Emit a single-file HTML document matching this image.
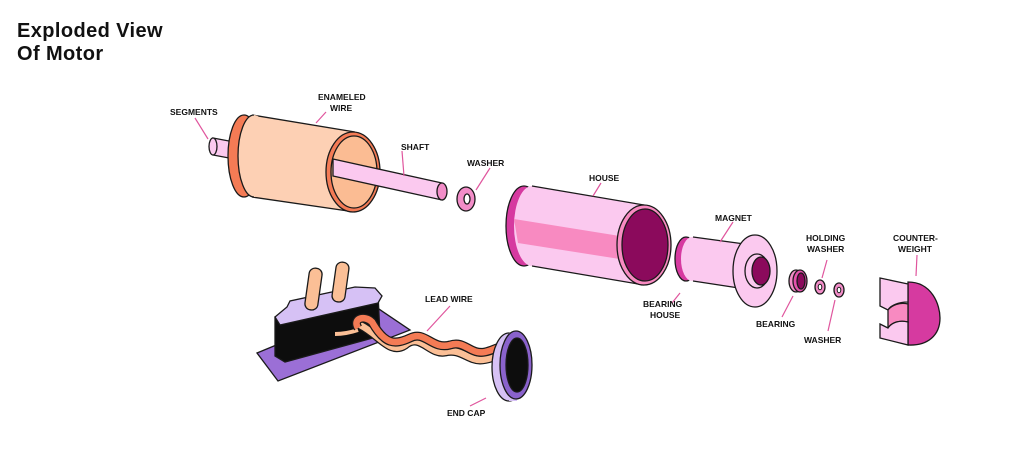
<!DOCTYPE html>
<html><head><meta charset="utf-8"><style>
html,body{margin:0;padding:0;background:#fff;width:1024px;height:460px;overflow:hidden}
svg{display:block}
text{font-family:"Liberation Sans",sans-serif;font-weight:bold;font-size:8.5px;fill:#111}
.t{font-size:20px;font-weight:bold;letter-spacing:0.4px}
.l{stroke:#e0559d;stroke-width:1.2;fill:none}
.k{stroke:#1a1a1a;stroke-width:1.3}
</style></head><body>
<svg width="1024" height="460" viewBox="0 0 1024 460">
<text class="t" x="17" y="37">Exploded View</text>
<text class="t" x="17" y="60">Of Motor</text>

<!-- shaft left -->
<path class="k" d="M213,138 L245,144 L245,161 L213,155 Z" fill="#fbc9ef"/>
<ellipse class="k" cx="213" cy="146.5" rx="4" ry="8.5" fill="#fbc9ef"/>
<!-- rotor -->
<ellipse class="k" cx="244" cy="156" rx="16" ry="41" fill="#f47b55"/>
<path d="M252,115 L355,132 L355,212 L252,197 Z" fill="#fdd0b4"/>
<path class="k" d="M252,115 L355,132 M252,197 L355,212" fill="none"/>
<ellipse cx="254" cy="156" rx="16" ry="41" fill="#fdd0b4"/>
<path d="M254,115 A16,41 0 0 0 254,197" stroke="#1a1a1a" stroke-width="1.3" fill="none"/>
<ellipse class="k" cx="353" cy="172" rx="27" ry="40" fill="#f47b55"/>
<ellipse class="k" cx="354" cy="172" rx="23" ry="36" fill="#fbbc93"/>
<!-- shaft right -->
<path class="k" d="M333,159 L442,183 L442,200 L333,176 Z" fill="#fbc9ef"/>
<ellipse class="k" cx="442" cy="191.5" rx="5" ry="8.5" fill="#f28dc8"/>
<!-- washer -->
<ellipse class="k" cx="466" cy="199" rx="9" ry="12" fill="#f28dc8"/>
<ellipse class="k" cx="467" cy="199" rx="3" ry="5" fill="#fff"/>

<!-- house -->
<ellipse class="k" cx="524" cy="226" rx="18" ry="40" fill="#d63aa0"/>
<path d="M532,186 L644,205 L644,285 L532,266 Z" fill="#fbc9ef"/>
<ellipse cx="532" cy="226" rx="18" ry="40" fill="#fbc9ef"/>
<path d="M514,219 L626,237 L626,260 L518,243 Z" fill="#f88ac1"/>
<path class="k" d="M532,186 L644,205 M532,266 L644,285" fill="none"/>
<ellipse class="k" cx="644" cy="245" rx="27" ry="40" fill="#f88ac1"/>
<ellipse class="k" cx="645" cy="245" rx="23" ry="36" fill="#8b0a5c"/>

<!-- magnet -->
<ellipse class="k" cx="686" cy="259" rx="11" ry="22" fill="#d63aa0"/>
<path d="M693,237 L752,245 L752,290 L693,281 Z" fill="#fbc9ef"/>
<ellipse cx="692" cy="259" rx="11" ry="22" fill="#fbc9ef"/>
<path class="k" d="M693,237 L752,245 M693,281 L752,290" fill="none"/>
<ellipse class="k" cx="755" cy="271" rx="22" ry="36" fill="#fbc9ef"/>
<ellipse class="k" cx="757" cy="271" rx="12" ry="17" fill="#fbc9ef"/>
<ellipse class="k" cx="761" cy="271" rx="9" ry="14" fill="#8b0a5c"/>

<!-- bearing -->
<ellipse class="k" cx="796" cy="281" rx="7" ry="11" fill="#f28dc8"/>
<ellipse class="k" cx="800" cy="281" rx="7" ry="11" fill="#e552ad"/>
<ellipse class="k" cx="801" cy="281" rx="4" ry="8" fill="#8b0a5c"/>
<!-- holding washer -->
<ellipse class="k" cx="820" cy="287" rx="5" ry="7" fill="#f28dc8"/>
<ellipse cx="820" cy="287" rx="1.8" ry="2.8" fill="#fff" stroke="#1a1a1a"/>
<!-- washer -->
<ellipse class="k" cx="839" cy="290" rx="5" ry="7" fill="#f28dc8"/>
<ellipse cx="839" cy="290" rx="1.8" ry="2.8" fill="#fff" stroke="#1a1a1a"/>

<!-- counterweight -->
<path class="k" d="M908,282 C932,282 940,305 940,318 C940,335 928,346 908,345 L908,282 Z" fill="#d63aa0"/>
<path class="k" d="M880,278 L908,284 L908,302 C898,302 890,306 888,310 L880,306 Z" fill="#fbc9ef"/>
<path class="k" d="M888,310 C892,305 900,302 908,304 L908,322 C900,320 892,322 888,328 Z" fill="#f88ac1"/>
<path class="k" d="M880,324 L888,328 C892,322 900,320 908,322 L908,345 L880,338 Z" fill="#fbc9ef"/>

<!-- switch plate -->
<path class="k" d="M257,353 L373,305 L410,330 L278,381 Z" fill="#9b6fd6"/>
<!-- block -->
<path class="k" d="M275,317 L378,293 L380,336 L285,362 L275,356 Z" fill="#0d0d0d"/>
<path class="k" d="M275,317 L287,307 L290,301 L355,287 L375,288 L382,296 L378,303 L280,325 Z" fill="#d6c1f5"/>
<rect class="k" x="307" y="268" width="13" height="42" rx="6" fill="#fbbf96" transform="rotate(8 313 289)"/>
<rect class="k" x="334" y="262" width="13" height="40" rx="6" fill="#fbbf96" transform="rotate(8 340 282)"/>
<path d="M335,334 C345,334 352,332 358,330" stroke="#fbbf96" stroke-width="4" fill="none"/>

<!-- lead wire -->
<path d="M360,325 C380,335 390,355 405,345 C420,332 430,355 445,352 C460,348 468,360 480,360 C490,360 495,355 505,355" stroke="#1a1a1a" stroke-width="9" fill="none"/>
<path d="M360,325 C380,335 390,355 405,345 C420,332 430,355 445,352 C460,348 468,360 480,360 C490,360 495,355 505,355" stroke="#fbbf96" stroke-width="6.5" fill="none"/>
<path d="M358,328 C352,318 365,315 372,322 C385,345 395,345 410,338 C425,330 432,350 450,345 C465,340 470,355 485,352 C495,350 498,345 508,348" stroke="#1a1a1a" stroke-width="9" fill="none"/>
<path d="M358,328 C352,318 365,315 372,322 C385,345 395,345 410,338 C425,330 432,350 450,345 C465,340 470,355 485,352 C495,350 498,345 508,348" stroke="#f47b55" stroke-width="6.5" fill="none"/>

<!-- end cap -->
<ellipse class="k" cx="509" cy="367" rx="17" ry="34" fill="#d6c1f5"/>
<path d="M509,333 L517,331 L517,401 L509,401 Z" fill="#d6c1f5"/>
<ellipse class="k" cx="516" cy="365" rx="16" ry="34" fill="#8a62cc"/>
<ellipse class="k" cx="517" cy="365" rx="11" ry="27" fill="#0d0d0d"/>

<!-- leader lines -->
<path class="l" d="M195,118 L208,139"/>
<path class="l" d="M326,112 L316,123"/>
<path class="l" d="M402,151 L404,176"/>
<path class="l" d="M490,168 L476,190"/>
<path class="l" d="M601,183 L593,196"/>
<path class="l" d="M733,222 L720,242"/>
<path class="l" d="M680,293 L672,303"/>
<path class="l" d="M793,296 L782,317"/>
<path class="l" d="M827,260 L822,278"/>
<path class="l" d="M835,300 L828,331"/>
<path class="l" d="M917,255 L916,276"/>
<path class="l" d="M450,306 L427,331"/>
<path class="l" d="M486,398 L470,406"/>

<!-- labels -->
<text x="170" y="115">SEGMENTS</text>
<text x="318" y="100">ENAMELED</text>
<text x="330" y="111">WIRE</text>
<text x="401" y="150">SHAFT</text>
<text x="467" y="166">WASHER</text>
<text x="589" y="181">HOUSE</text>
<text x="715" y="221">MAGNET</text>
<text x="643" y="307">BEARING</text>
<text x="650" y="318">HOUSE</text>
<text x="756" y="327">BEARING</text>
<text x="806" y="241">HOLDING</text>
<text x="807" y="252">WASHER</text>
<text x="804" y="343">WASHER</text>
<text x="893" y="241">COUNTER-</text>
<text x="898" y="252">WEIGHT</text>
<text x="425" y="302">LEAD WIRE</text>
<text x="447" y="416">END CAP</text>
</svg>
</body></html>
